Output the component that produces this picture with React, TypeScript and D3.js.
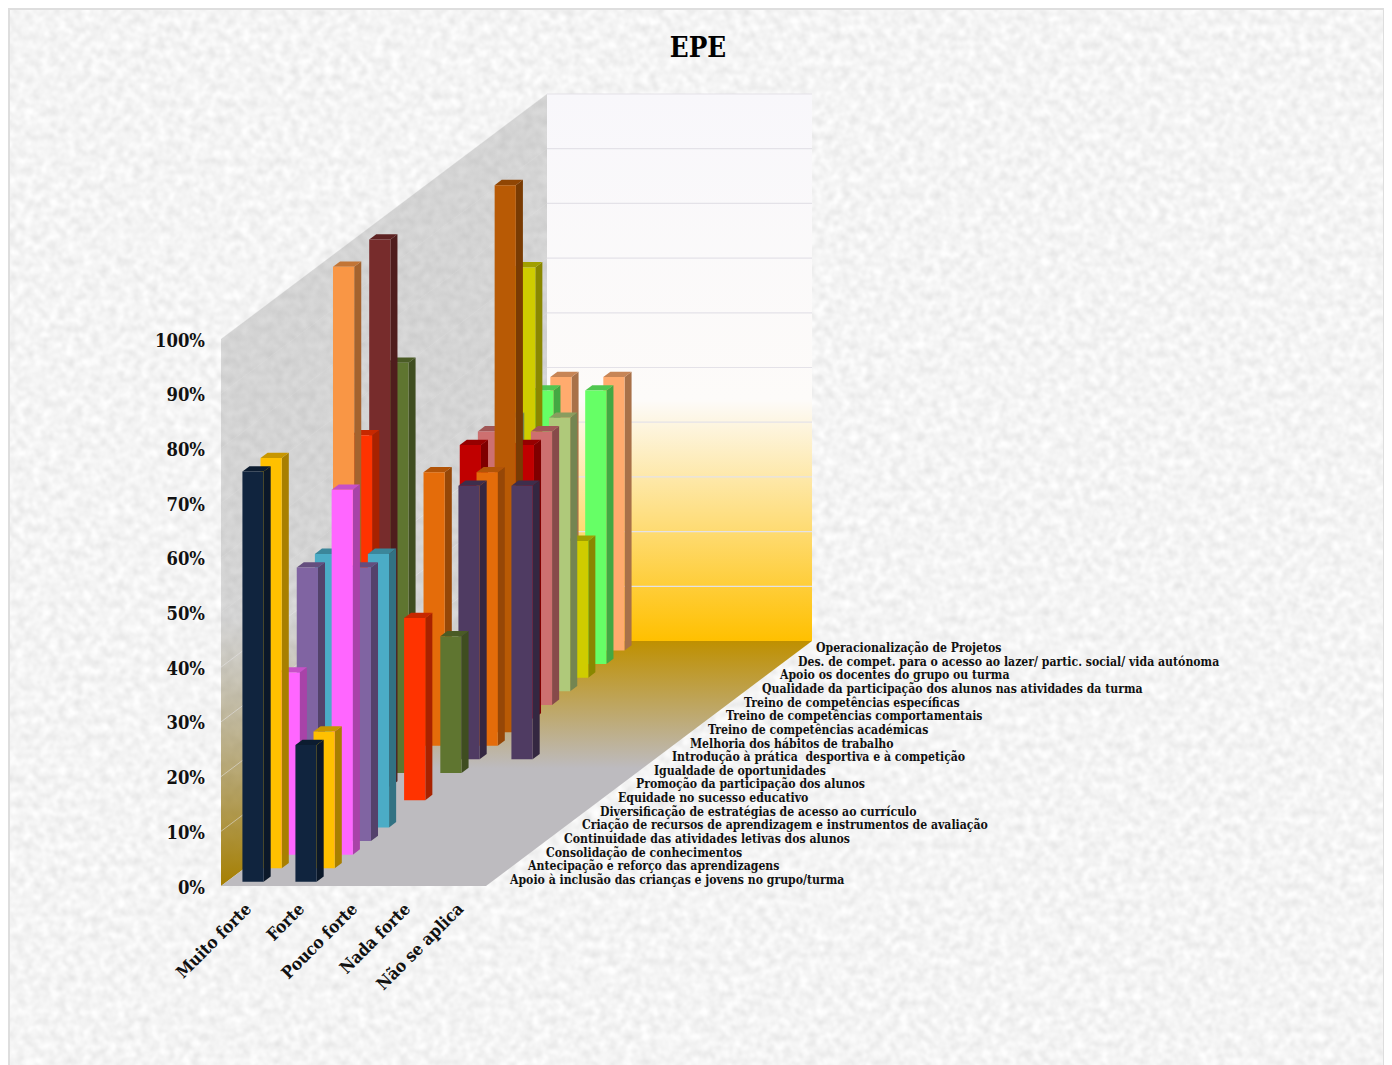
import React from "react";
import * as d3 from "d3";

// Chart content
const chartTitle = "EPE";
const categories = ["Muito forte", "Forte", "Pouco forte", "Nada forte", "Não se aplica"];
const seriesNames = [
  "Apoio à inclusão das crianças e jovens no grupo/turma",
  "Antecipação e reforço das aprendizagens",
  "Consolidação de conhecimentos",
  "Continuidade das atividades letivas dos alunos",
  "Criação de recursos de aprendizagem e instrumentos de avaliação",
  "Diversificação de estratégias de acesso ao currículo",
  "Equidade no sucesso educativo",
  "Promoção da participação dos alunos",
  "Igualdade de oportunidades",
  "Introdução à prática  desportiva e à competição",
  "Melhoria dos hábitos de trabalho",
  "Treino de competências académicas",
  "Treino de competências comportamentais",
  "Treino de competências específicas",
  "Qualidade da participação dos alunos nas atividades da turma",
  "Apoio os docentes do grupo ou turma",
  "Des. de compet. para o acesso ao lazer/ partic. social/ vida autónoma",
  "Operacionalização de Projetos",
];
const seriesColors = [
  "#10243E", "#FFC000", "#FF66FF", "#8064A2", "#4BACC6", "#F99645",
  "#FF3300", "#772C2C", "#5F7530", "#4F3B62", "#E46C0A", "#B85A05",
  "#C00000", "#CD7070", "#AFC97A", "#CFCC00", "#66FF66", "#FFAB6E",
];
// Percentages per series, one array per response category
const muitoForte = [75, 75, 33.3, 50, 50, 100, 66.7, 100, 75, 0, 50, 0, 50, 50, 50, 75, 50, 50];
const forte = [25, 25, 66.7, 50, 50, 0, 33.3, 0, 25, 50, 50, 100, 50, 50, 50, 25, 50, 50];
const poucoForte = [0, 0, 0, 0, 0, 0, 0, 0, 0, 50, 0, 0, 0, 0, 0, 0, 0, 0];
const nadaForte = [0, 0, 0, 0, 0, 0, 0, 0, 0, 0, 0, 0, 0, 0, 0, 0, 0, 0];
const naoSeAplica = [0, 0, 0, 0, 0, 0, 0, 0, 0, 0, 0, 0, 0, 0, 0, 0, 0, 0];
const valuesByCategory = [muitoForte, forte, poucoForte, nadaForte, naoSeAplica];
const percentTicks = [0, 10, 20, 30, 40, 50, 60, 70, 80, 90, 100];

// Oblique projection of the plot box
const originX = 221;
const originY = 886;
const plotWidth = 265;
const plotHeight = 547;
const depthX = 326;
const depthY = 245;
const FONT = "'DejaVu Serif Condensed', 'DejaVu Serif', serif";

const xBand = d3.scaleBand<string>().domain(categories).range([0, plotWidth]);
const yHeight = d3.scaleLinear().domain([0, 100]).range([0, plotHeight]);
const zDepth = d3.scaleLinear().domain([0, seriesNames.length]).range([0, 1]);
const labelX = d3.scaleLinear().domain([0, seriesNames.length - 1]).range([510, 816]);
const labelY = d3.scaleLinear().domain([0, seriesNames.length - 1]).range([884, 652]);

const project = (x: number, z: number, h: number): [number, number] => [
  originX + x + z * depthX,
  originY - z * depthY - h,
];
const poly = (pts: [number, number][]) => pts.map((p) => p.join(",")).join(" ");
const shade = (c: string, f: number) => {
  const r = d3.rgb(c);
  return d3.rgb(r.r * f, r.g * f, r.b * f).formatHex();
};

type Bar = { key: string; k: number; c: number; value: number };
const bars: Bar[] = [];
for (let k = seriesNames.length - 1; k >= 0; k--) {
  categories.forEach((cat, c) => {
    const value = valuesByCategory[c][k];
    if (value > 0) bars.push({ key: `${k}-${c}`, k, c, value });
  });
}

function Bar3D({ k, c, value }: Bar) {
  const band = xBand.bandwidth();
  const width = band * 0.4;
  const x0 = (xBand(categories[c]) as number) + (band - width) / 2;
  const x1 = x0 + width;
  const zStep = zDepth(1);
  const z0 = zDepth(k) + zStep * 0.305;
  const z1 = z0 + zStep * 0.39;
  const h = yHeight(value);
  const color = seriesColors[k];
  return (
    <g>
      <polygon
        points={poly([project(x1, z0, 0), project(x1, z1, 0), project(x1, z1, h), project(x1, z0, h)])}
        fill={shade(color, 0.66)}
      />
      <polygon
        points={poly([project(x0, z0, h), project(x1, z0, h), project(x1, z1, h), project(x0, z1, h)])}
        fill={shade(color, 0.78)}
      />
      <polygon
        points={poly([project(x0, z0, 0), project(x1, z0, 0), project(x1, z0, h), project(x0, z0, h)])}
        fill={color}
      />
    </g>
  );
}

export default function App() {
  return (
    <svg
      width={1384}
      height={1057}
      viewBox="8 8 1384 1057"
      style={{ display: "block" }}
      xmlns="http://www.w3.org/2000/svg"
    >
      <defs>
        <filter id="paper" x="0" y="0" width="100%" height="100%" colorInterpolationFilters="sRGB">
          <feTurbulence type="fractalNoise" baseFrequency="0.12" numOctaves="3" seed="7" />
          <feColorMatrix
            type="matrix"
            values="0.15 0 0 0 0.882  0.15 0 0 0 0.882  0.15 0 0 0 0.882  0 0 0 0 1"
          />
          <feGaussianBlur stdDeviation="1" />
        </filter>
        <linearGradient id="sideWall" gradientUnits="userSpaceOnUse" x1="0" y1="94" x2="0" y2="886">
          <stop offset="0" stopColor="#8f8f8f" stopOpacity="0.32" />
          <stop offset="0.66" stopColor="#8f8f8f" stopOpacity="0.32" />
          <stop offset="1" stopColor="#A67F00" stopOpacity="1" />
        </linearGradient>
        <linearGradient id="backWall" gradientUnits="userSpaceOnUse" x1="0" y1="94" x2="0" y2="641">
          <stop offset="0" stopColor="#F8F7FB" />
          <stop offset="0.56" stopColor="#FDFBF9" />
          <stop offset="1" stopColor="#FFC000" />
        </linearGradient>
        <linearGradient id="floor" gradientUnits="userSpaceOnUse" x1="0" y1="641" x2="0" y2="886">
          <stop offset="0" stopColor="#BF9000" />
          <stop offset="0.52" stopColor="#BDBBBF" />
          <stop offset="1" stopColor="#BDBBBF" />
        </linearGradient>
      </defs>

      {/* Paper background and frame */}
      <rect x={8} y={8} width={1377} height={1060} filter="url(#paper)" />
      <rect x={9} y={9} width={1375} height={1060} fill="none" stroke="#DEDEDE" strokeWidth={2} />

      {/* Walls and floor */}
      <polygon
        points={poly([project(0, 0, 0), project(0, 1, 0), project(0, 1, plotHeight), project(0, 0, plotHeight)])}
        fill="url(#sideWall)"
      />
      <polygon
        points={poly([project(0, 1, 0), project(plotWidth, 1, 0), project(plotWidth, 1, plotHeight), project(0, 1, plotHeight)])}
        fill="url(#backWall)"
      />
      <polygon
        points={poly([project(0, 0, 0), project(plotWidth, 0, 0), project(plotWidth, 1, 0), project(0, 1, 0)])}
        fill="url(#floor)"
      />

      {/* Gridlines along side and back walls */}
      {percentTicks.slice(1).map((t) => {
        const [ax, ay] = project(0, 0, yHeight(t));
        const [bx, by] = project(0, 1, yHeight(t));
        const [cx, cy] = project(plotWidth, 1, yHeight(t));
        return (
          <g key={t}>
            <line x1={ax} y1={ay} x2={bx} y2={by} stroke="#E6E4E8" strokeOpacity={t > 40 ? 0.2 : 0.55} strokeWidth={1} />
            <line x1={bx} y1={by} x2={cx} y2={cy} stroke="#E4E2E8" strokeWidth={1.2} />
          </g>
        );
      })}

      {bars.map((b) => (
        <Bar3D {...b} key={b.key} />
      ))}

      {/* Title */}
      <text x={698} y={57} textAnchor="middle" fontFamily={FONT} fontWeight="bold" fontSize={27.5} fill="#000">
        {chartTitle}
      </text>

      {/* Percentage axis */}
      {percentTicks.map((t) => (
        <text
          key={t}
          x={205}
          y={originY - yHeight(t) + 7.5}
          textAnchor="end"
          fontFamily={FONT}
          fontWeight="bold"
          fontSize={18.3}
          fill="#111"
        >
          {t}%
        </text>
      ))}

      {/* Response categories */}
      {categories.map((cat) => {
        const x = originX + (xBand(cat) as number) + xBand.bandwidth() / 2 + 5;
        return (
          <text
            key={cat}
            transform={`translate(${x},${originY + 24}) rotate(-45)`}
            textAnchor="end"
            fontFamily={FONT}
            fontWeight="bold"
            fontSize={17}
            fill="#111"
          >
            {cat}
          </text>
        );
      })}

      {/* Series names along the depth axis */}
      {seriesNames.map((name, k) => (
        <text
          key={k}
          x={labelX(k)}
          y={labelY(k)}
          fontFamily={FONT}
          fontWeight="bold"
          fontSize={12.15}
          fill="#111"
          xmlSpace="preserve"
        >
          {name}
        </text>
      ))}
    </svg>
  );
}
